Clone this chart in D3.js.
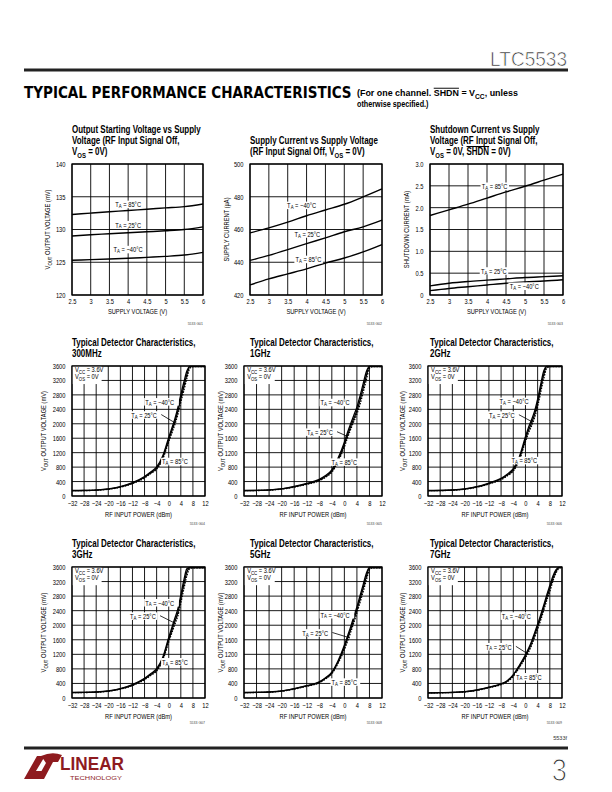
<!DOCTYPE html>
<html><head><meta charset="utf-8">
<script src="https://cdn.jsdelivr.net/npm/d3@7"></script>
<style>
body{margin:0;background:#fff;}
svg{display:block;}
</style></head><body>
<svg id="c" width="612" height="792"></svg>
<script>
// ---------------- DATA ----------------
const supplyV = [2.5,3,3.5,4,4.5,5,5.5,6];
const vstart85 = [132.3,132.5,132.7,132.9,133.1,133.3,133.5,133.9];
const vstart25 = [129.0,129.2,129.35,129.5,129.65,129.8,130.0,130.4];
const vstartM40 = [125.3,125.4,125.5,125.6,125.75,125.9,126.1,126.5];

const iccM40 = [457.9,461.0,464.5,468.4,471.9,475.4,479.9,484.8];
const icc25 = [441.1,444.2,447.7,451.4,454.9,458.6,461.6,465.7];
const icc85 = [426.2,429.8,432.9,436.0,439.5,442.6,446.3,450.8];

const ishd85 = [1.82,1.95,2.08,2.22,2.36,2.49,2.63,2.77];
const ishd25 = [0.21,0.27,0.31,0.34,0.37,0.40,0.42,0.44];
const ishdM40 = [0.10,0.15,0.19,0.23,0.27,0.30,0.32,0.35];

const supplyTicks = [2.5,3,3.5,4,4.5,5,5.5,6];
const vstartTicks = [120,125,130,135,140];
const iccTicks = [420,440,460,480,500];
const ishdTicks = [0,0.5,1.0,1.5,2.0,2.5,3.0];

const pinDbm = [-32,-28,-24,-20,-16,-12,-8,-6,-4,-2,0,1,2,3,4,5,6,7,8,9,10,11,12];
const pinTicks = [-32,-28,-24,-20,-16,-12,-8,-4,0,4,8,12];
const voutTicks = [0,400,800,1200,1600,2000,2400,2800,3200,3600];

const f300M40 = [152,154,165,195,258,368,540,665,805,1105,1620,1870,2130,2440,2810,3150,3460,3590,3590,3590,3590,3590,3590];
const f300T25 = [150,152,162,190,250,355,520,640,770,1060,1560,1800,2050,2340,2700,3030,3360,3580,3580,3580,3580,3580,3580];
const f300T85 = [148,150,159,186,243,343,502,618,742,1020,1500,1735,1975,2250,2600,2920,3260,3540,3580,3580,3580,3580,3580];

const f1gM40 = [152,155,168,200,264,348,460,565,725,1050,1490,1760,2000,2230,2460,2770,3110,3440,3590,3590,3590,3590,3590];
const f1gT25 = [150,153,165,195,255,335,440,540,690,1000,1420,1680,1920,2140,2360,2650,2990,3330,3580,3580,3580,3580,3580];
const f1gT85 = [148,151,162,190,247,323,422,518,660,955,1360,1610,1845,2060,2270,2540,2870,3220,3540,3580,3580,3580,3580];

const f2gM40 = [152,154,166,195,258,358,490,605,755,1090,1640,1900,2110,2350,2680,3090,3460,3590,3590,3590,3590,3590,3590];
const f2gT25 = [150,152,163,190,250,345,470,580,720,1040,1570,1820,2020,2260,2580,2980,3360,3580,3580,3580,3580,3580,3580];
const f2gT85 = [148,150,160,186,243,333,452,557,690,995,1505,1745,1940,2170,2480,2870,3250,3540,3580,3580,3580,3580,3580];

const f3gM40 = [152,154,165,195,258,368,540,665,805,1115,1665,1925,2185,2440,2830,3240,3550,3590,3590,3590,3590,3590,3590];
const f3gT25 = [150,152,162,190,250,355,520,640,770,1070,1600,1850,2100,2340,2720,3120,3460,3580,3580,3580,3580,3580,3580];
const f3gT85 = [148,150,159,186,243,343,502,618,742,1030,1540,1780,2020,2250,2610,3000,3360,3560,3580,3580,3580,3580,3580];

const f5gM40 = [151,154,165,193,255,338,442,556,712,1025,1450,1700,1955,2230,2505,2810,3115,3420,3590,3590,3590,3590,3590];
const f5gT25 = [150,153,163,190,250,330,430,540,690,990,1390,1630,1880,2150,2420,2720,3020,3330,3580,3580,3580,3580,3580];
const f5gT85 = [149,152,161,187,245,322,418,524,668,955,1330,1560,1805,2070,2335,2630,2925,3240,3520,3580,3580,3580,3580];

const f7gM40 = [141,146,154,173,220,298,392,476,642,900,1190,1360,1555,1790,2025,2280,2550,2835,3090,3345,3520,3590,3590];
const f7gT25 = [140,145,152,170,215,290,380,460,620,870,1150,1310,1500,1730,1960,2210,2480,2760,3010,3280,3480,3580,3590];
const f7gT85 = [139,144,150,167,210,282,368,444,598,840,1110,1260,1445,1670,1895,2140,2410,2685,2930,3210,3430,3560,3590];

// ---------------- HELPERS ----------------
const svg = d3.select('#c');
const FONT = '"Liberation Sans", Arial, sans-serif';
function measure(str, size, weight){
  const t = svg.append('text').attr('font-family',FONT).attr('font-size',size).attr('font-weight',weight).text(str);
  const w = t.node().getComputedTextLength(); t.remove(); return w;
}
const kT = 129 / measure('Output Starting Voltage vs Supply', 10.5, 'bold');
const kS = 67 / measure('RF INPUT POWER (dBm)', 7, 'normal');

function txt(parent, x, y, parts, o={}){
  const size=o.size||7;
  const g=parent.append('g');
  const t=g.append('text').attr('font-family',o.family||FONT).attr('font-size',size)
    .attr('font-weight',o.weight||'normal').attr('text-anchor',o.anchor||'start').attr('fill',o.fill||'#000');
  if(o.thin) t.attr('stroke','#fff').attr('stroke-width',o.thin);
  if(o.baseline) t.attr('dominant-baseline',o.baseline);
  if(typeof parts==='string') parts=[parts];
  let shift=0;
  parts.forEach(p=>{
    let s=p, mode=null;
    if(Array.isArray(p)){s=p[0];mode=p[1];}
    const ts=t.append('tspan').text(s);
    if(mode==='sub'){ts.attr('font-size',size*0.75).attr('dy',size*0.28-shift); shift=size*0.28;}
    else { if(shift){ts.attr('dy',-shift);} shift=0; if(mode==='over') ts.style('text-decoration','overline'); }
  });
  let k=o.k||kS;
  if(o.fitW){ k=o.fitW/t.node().getComputedTextLength(); }
  g.attr('transform',`translate(${x},${y})${o.rot?` rotate(${o.rot})`:''} scale(${k},1)`);
  if(o.bg){
    const b=t.node().getBBox(), pad=o.pad||1;
    g.insert('rect','text').attr('x',b.x-pad).attr('y',b.y+0.5).attr('width',b.width+2*pad+(o.extra||0)).attr('height',b.height-1).attr('fill','#fff');
  }
  return g;
}

function panel(cfg){
  const g=svg.append('g').attr('transform',`translate(${cfg.x0},${cfg.y0})`);
  const x=d3.scaleLinear().domain(cfg.xd).range([0,cfg.w]);
  const y=d3.scaleLinear().domain(cfg.yd).range([cfg.h,0]);
  const grid=g.append('g');
  grid.selectAll('line.v').data(cfg.xt).join('line').attr('x1',d=>x(d)).attr('x2',d=>x(d)).attr('y1',0).attr('y2',cfg.h).attr('stroke','#000').attr('stroke-width',0.9);
  grid.selectAll('line.h').data(cfg.yt).join('line').attr('y1',d=>y(d)).attr('y2',d=>y(d)).attr('x1',0).attr('x2',cfg.w).attr('stroke','#000').attr('stroke-width',0.9);
  const ax=g.append('g').attr('transform',`translate(0,${cfg.h})`)
    .call(d3.axisBottom(x).tickValues(cfg.xt).tickFormat(cfg.xf).tickSize(0).tickPadding(0));
  ax.select('.domain').remove();
  ax.attr('font-family',FONT).attr('font-size',7);
  ax.selectAll('text').attr('y',0).attr('dy',0).attr('transform',`translate(0,${cfg.xlab}) scale(${kS},1)`);
  const ay=g.append('g').call(d3.axisLeft(y).tickValues(cfg.yt).tickFormat(cfg.yf).tickSize(0).tickPadding(0));
  ay.select('.domain').remove();
  ay.attr('font-family',FONT).attr('font-size',7);
  ay.selectAll('text').attr('x',0).attr('dy','0.35em').attr('transform',`translate(-6.5,0) scale(${kS},1)`);
  txt(g,cfg.w/2,cfg.h+cfg.xtitle,cfg.xTitle,{anchor:'middle'});
  txt(g,cfg.ytitleX,cfg.h/2,cfg.yTitle,{anchor:'middle',rot:-90});
  if(cfg.before) cfg.before(g,x,y);
  const line=(xs)=>d3.line().x((d,i)=>x(xs[i])).y(d=>y(d)).curve(d3.curveMonotoneX);
  cfg.series.forEach(s=>{
    g.append('path').attr('d',line(cfg.xs)(s.v)).attr('fill','none').attr('stroke','#000')
      .attr('stroke-width',s.sw||1.4).attr('stroke-dasharray',s.dash||null);
  });
  if(cfg.labels) cfg.labels(g,x,y);
  g.append('rect').attr('width',cfg.w).attr('height',cfg.h).attr('fill','none').attr('stroke','#000').attr('stroke-width',1.3);
  cfg.title.forEach((ln,i)=>txt(svg,cfg.tx,cfg.ty+i*11,ln,{size:10.5,weight:'bold',k:kT}));
  txt(svg,cfg.idX,cfg.idY,cfg.id,{size:3.5,anchor:'end',fill:'#444',k:1});
  return g;
}

const TA=(t)=>['T',['A','sub'],' = '+t];
function tempLabel(g,x,y,cx,cy,t){
  txt(g,x(cx),y(cy),TA(t),{anchor:'middle',baseline:'central',bg:true,pad:1.5});
}
function detLabel(g,x,y,L){
  txt(g,x(L.m40[0]),y(L.m40[1]),TA('−40°C'),{baseline:'central',bg:true,pad:1.2,extra:4});
  g.append('line').attr('x1',x(L.t25[0])+30).attr('y1',y(L.t25[1])).attr('x2',x(L.t25[2])).attr('y2',y(L.t25[3])).attr('stroke','#000').attr('stroke-width',0.8);
  txt(g,x(L.t25[0]),y(L.t25[1]),TA('25°C'),{baseline:'central',bg:true,pad:1.2});
  txt(g,x(L.t85[0]),y(L.t85[1]),TA('85°C'),{baseline:'central',bg:true,pad:1.2,extra:2});
}

const commonTop = {w:131,h:131,xd:[2.5,6],xt:supplyTicks,xf:d=>String(d),xs:supplyV,xlab:9,xtitle:19,xTitle:'SUPPLY VOLTAGE (V)'};

panel(Object.assign({},commonTop,{x0:72,y0:164,yd:[120,140],yt:vstartTicks,yf:d=>String(d),
  ytitleX:-22,yTitle:['V',['OUT','sub'],' OUTPUT VOLTAGE (mV)'],
  series:[{v:vstart85},{v:vstart25},{v:vstartM40}],
  labels:(g,x,y)=>{tempLabel(g,x,y,4.0,133.9,'85°C');tempLabel(g,x,y,4.0,130.8,'25°C');tempLabel(g,x,y,4.0,127.0,'−40°C');},
  title:['Output Starting Voltage vs Supply','Voltage (RF Input Signal Off,',['V',['OS','sub'],' = 0V)']],tx:72,ty:133,
  id:'5533 G01',idX:203,idY:325}));
panel(Object.assign({},commonTop,{x0:250,y0:164,w:132,yd:[420,500],yt:iccTicks,yf:d=>String(d),
  ytitleX:-21,yTitle:'SUPPLY CURRENT (µA)',
  series:[{v:iccM40},{v:icc25},{v:icc85}],
  labels:(g,x,y)=>{tempLabel(g,x,y,3.87,475,'−40°C');tempLabel(g,x,y,4.02,457.5,'25°C');tempLabel(g,x,y,4.05,442,'85°C');},
  title:['Supply Current vs Supply Voltage',['(RF Input Signal Off, V',['OS','sub'],' = 0V)']],tx:250,ty:144,
  id:'5533 G02',idX:382,idY:325}));
panel(Object.assign({},commonTop,{x0:430,y0:164,w:133,yd:[0,3],yt:ishdTicks,yf:d=>d===0?'0':d.toFixed(1),
  ytitleX:-21,yTitle:'SHUTDOWN CURRENT (mA)',
  series:[{v:ishd85},{v:ishd25},{v:ishdM40}],
  labels:(g,x,y)=>{tempLabel(g,x,y,4.2,2.5,'85°C');tempLabel(g,x,y,4.18,0.56,'25°C');tempLabel(g,x,y,4.98,0.21,'−40°C');},
  title:['Shutdown Current vs Supply','Voltage (RF Input Signal Off,',['V',['OS','sub'],' = 0V, ',['SHDN','over'],' = 0V)']],tx:430,ty:133,
  id:'5533 G03',idX:563,idY:325}));

const detCommon = {h:130,xd:[-32,12],xt:pinTicks,xf:d=>d<0?'−'+(-d):String(d),yd:[0,3600],yt:voutTicks,yf:d=>String(d),
  xs:pinDbm,xlab:10,xtitle:21,xTitle:'RF INPUT POWER (dBm)',yTitle:['V',['OUT','sub'],' OUTPUT VOLTAGE (mV)'],
  before:(g,x,y)=>{
    g.append('rect').attr('x',x(-32)).attr('y',y(3600)).attr('width',x(-22.2)-x(-32)).attr('height',y(3100)-y(3600)).attr('fill','#fff');
    txt(g,x(-31),y(3425),['V',['CC','sub'],' = 3.6V'],{size:7});
    txt(g,x(-31),y(3240),['V',['OS','sub'],' = 0V'],{size:7});
  }};
const cols=[{x0:72,w:133,ytx:-26,tx:72,idX:205},{x0:244,w:138,ytx:-21,tx:250,idX:382},{x0:428,w:134,ytx:-23,tx:430,idX:562}];
const dets=[
  {row:0,col:0,f:'300MHz',id:'5533 G04',s:[f300M40,f300T25,f300T85],L:{m40:[-7.8,2620],t25:[-12.4,2256,2.0,2030],t85:[-2.2,967]}},
  {row:0,col:1,f:'1GHz',id:'5533 G05',s:[f1gM40,f1gT25,f1gT85],L:{m40:[-7.6,2600],t25:[-11.9,1780,1.0,1650],t85:[-4.1,950]}},
  {row:0,col:2,f:'2GHz',id:'5533 G06',s:[f2gM40,f2gT25,f2gT85],L:{m40:[-8.5,2634],t25:[-12.0,2251,2.3,2050],t85:[-4.6,993]}},
  {row:1,col:0,f:'3GHz',id:'5533 G07',s:[f3gM40,f3gT25,f3gT85],L:{m40:[-7.8,2629],t25:[-12.8,2262,2.2,2050],t85:[-2.2,1007]}},
  {row:1,col:1,f:'5GHz',id:'5533 G08',s:[f5gM40,f5gT25,f5gT85],L:{m40:[-7.6,2300],t25:[-13.4,1800,1.8,1650],t85:[-4.1,450]}},
  {row:1,col:2,f:'7GHz',id:'5533 G09',s:[f7gM40,f7gT25,f7gT85],L:{m40:[-7.8,2263],t25:[-13.0,1420,1.0,1200],t85:[-3.1,595]}},
];
dets.forEach(d=>{
  const c=cols[d.col];
  const y0=d.row===0?366:567;
  panel(Object.assign({},detCommon,{x0:c.x0,w:c.w,y0:y0,h:d.row===0?130:131,ytitleX:c.ytx,
    series:[{v:d.s[2],dash:'1.6,1.2',sw:1.3},{v:d.s[1],sw:1.3},{v:d.s[0],sw:1.3}],
    labels:(g,x,y)=>detLabel(g,x,y,d.L),
    title:['Typical Detector Characteristics,',d.f],tx:c.tx,ty:d.row===0?346:547,
    id:d.id,idX:c.idX,idY:d.row===0?525:724}));
});

// ---------------- PAGE DECORATION ----------------
txt(svg,567,66,'LTC5533',{size:20,anchor:'end',family:'"Liberation Sans", sans-serif',weight:'normal',fitW:77,fill:'#333',thin:0.7});
svg.append('rect').attr('x',24).attr('y',68.5).attr('width',544).attr('height',3).attr('fill','#222');
txt(svg,24,97.5,'TYPICAL PERFORMANCE CHARACTERISTICS',{size:16,weight:'bold',family:'"DejaVu Sans", sans-serif',fitW:328});
txt(svg,357,96,['(For one channel. ',['SHDN','over'],' = V',['CC','sub'],', unless'],{size:9.5,weight:'bold',fitW:161});
txt(svg,357,107,'otherwise specified.)',{size:9.5,weight:'bold',k:kT});
txt(svg,567,740,'5533f',{size:5.5,anchor:'end',fill:'#333',k:1});
svg.append('rect').attr('x',24).attr('y',746.5).attr('width',544).attr('height',3).attr('fill','#222');
txt(svg,567,781,'3',{size:32,anchor:'end',family:'"Liberation Sans", sans-serif',weight:'normal',k:0.85,fill:'#333',thin:1.2});
const RED='#8e1b1f';
svg.append('path').attr('d','M24,779 L37,756 L45,756 L36,771 L47,771 L43,779 Z').attr('fill',RED);
svg.append('path').attr('d','M41,756 Q52,751 62,755 L58,762 L53,762 L44,779 L37,779 L46,763 Q44,760 41,756 Z').attr('fill',RED);
txt(svg,60,769.5,'LINEAR',{size:18,weight:'bold',fill:RED,fitW:64});
txt(svg,70,779.5,'TECHNOLOGY',{size:5.5,fill:RED,fitW:52});
</script>
</body></html>
